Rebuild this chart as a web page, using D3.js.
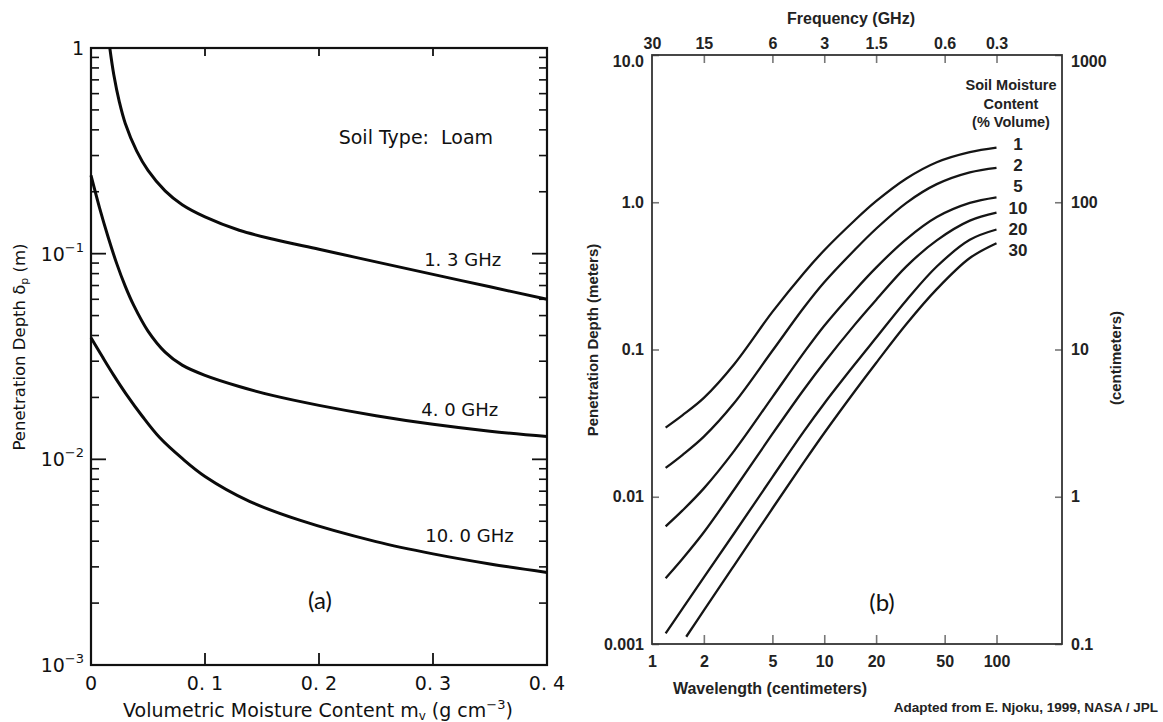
<!DOCTYPE html>
<html>
<head>
<meta charset="utf-8">
<script src="https://cdn.jsdelivr.net/npm/d3@7"></script>
<style>
  body { margin: 0; background: #fff; }
  .pa text { font-family: "DejaVu Sans", sans-serif; fill: #111; white-space: pre; }
  .pb text { font-family: "Liberation Sans Narrow", "Arial Narrow", "Liberation Sans", sans-serif; font-weight: bold; fill: #222; }
  .tag { font-family: Lato, "Open Sans", sans-serif !important; font-weight: normal !important; fill: #111 !important; }
</style>
</head>
<body>
<svg id="chart"></svg>
<script>
// ---- panel (a): penetration depth vs volumetric moisture (loam)
const freqLabels = ['1. 3 GHz', '4. 0 GHz', '10. 0 GHz'];
const mv13 = [0.0165, 0.02, 0.025, 0.03, 0.04, 0.05, 0.065, 0.08, 0.1, 0.13, 0.16, 0.2, 0.25, 0.3, 0.35, 0.4];
const dp13 = [1.0, 0.741, 0.543, 0.431, 0.316, 0.254, 0.202, 0.173, 0.151, 0.130, 0.1175, 0.105, 0.0912, 0.0793, 0.069, 0.06];
const mv40 = [0, 0.0075, 0.015, 0.0225, 0.03, 0.0375, 0.05, 0.065, 0.08, 0.1, 0.13, 0.16, 0.2, 0.25, 0.3, 0.35, 0.4];
const dp40 = [0.24, 0.167, 0.1205, 0.0897, 0.0695, 0.056, 0.042, 0.0332, 0.0287, 0.0256, 0.0226, 0.0204, 0.0183, 0.0163, 0.0148, 0.0137, 0.0129];
const mv100 = [0, 0.01, 0.02, 0.031, 0.045, 0.06, 0.08, 0.1, 0.139, 0.183, 0.25, 0.3, 0.35, 0.4];
const dp100 = [0.039, 0.0315, 0.0256, 0.0207, 0.0162, 0.0128, 0.0101, 0.00826, 0.00625, 0.00506, 0.00398, 0.00347, 0.0031, 0.00282];
const mvTicks = [0, 0.1, 0.2, 0.3, 0.4];
const dpDecades = [1, 0.1, 0.01, 0.001];

// ---- panel (b): penetration depth vs wavelength, by soil moisture
const moistureLabels = ['1', '2', '5', '10', '20', '30'];
const wl = [1.2, 1.5, 2, 3, 5, 7.6, 10, 15, 20, 30, 45, 70, 100];
const wl30 = [1.58, 2, 3, 5, 7.6, 10, 15, 20, 30, 45, 70, 100];
const sm1 = [0.0295, 0.0357, 0.0469, 0.0794, 0.18, 0.330, 0.472, 0.752, 1.016, 1.45, 1.87, 2.19, 2.35];
const sm2 = [0.0157, 0.0192, 0.0256, 0.0433, 0.098, 0.192, 0.286, 0.474, 0.661, 0.991, 1.327, 1.596, 1.714];
const sm5 = [0.0063, 0.00805, 0.0114, 0.0205, 0.0475, 0.0948, 0.145, 0.251, 0.360, 0.562, 0.793, 0.989, 1.08];
const sm10 = [0.0028, 0.00378, 0.00574, 0.0112, 0.0267, 0.0533, 0.0816, 0.147, 0.217, 0.367, 0.551, 0.750, 0.849];
const sm20 = [0.00118, 0.00173, 0.00283, 0.00565, 0.0136, 0.0277, 0.043, 0.079, 0.120, 0.216, 0.366, 0.556, 0.653];
const sm30 = [0.00112, 0.00169, 0.00342, 0.00832, 0.0171, 0.0271, 0.0519, 0.0810, 0.149, 0.257, 0.418, 0.527];
const freqTicks = [30, 15, 6, 3, 1.5, 0.6, 0.3];
const wlTicks = [1, 2, 5, 10, 20, 50, 100];
const depthTicks = [10, 1, 0.1, 0.01, 0.001];
const cmTicks = [1000, 100, 10, 1, 0.1];

const svg = d3.select('#chart').attr('width', 1163).attr('height', 722);
svg.append('rect').attr('width', 1163).attr('height', 722).attr('fill', '#fff');

// ================= panel (a)
const ga = svg.append('g').attr('class', 'pa');
const xA = d3.scaleLinear().domain([0, 0.4]).range([91, 547]);
const yA = d3.scaleLog().domain([0.001, 1]).range([665, 48]);

const minorA = [];
[0.001, 0.01, 0.1].forEach(d => { for (let m = 2; m <= 9; m++) minorA.push(d * m); });

// minor + major ticks on both sides, pointing inwards
function yTicksA(sel, side) {
  const x0 = side === 'left' ? xA.range()[0] : xA.range()[1];
  const s = side === 'left' ? 1 : -1;
  sel.selectAll(null).data(minorA).enter().append('line')
    .attr('x1', x0).attr('x2', x0 + s * 8)
    .attr('y1', d => yA(d)).attr('y2', d => yA(d))
    .attr('stroke', '#111').attr('stroke-width', 1.6);
  sel.selectAll(null).data([0.1, 0.01]).enter().append('line')
    .attr('x1', x0).attr('x2', x0 + s * 15)
    .attr('y1', d => yA(d)).attr('y2', d => yA(d))
    .attr('stroke', '#111').attr('stroke-width', 1.8);
}
yTicksA(ga, 'left');
yTicksA(ga, 'right');

ga.selectAll(null).data(mvTicks.slice(1, 4)).enter().append('line')
  .attr('x1', d => xA(d)).attr('x2', d => xA(d))
  .attr('y1', 48).attr('y2', 56).attr('stroke', '#111').attr('stroke-width', 1.8);
ga.selectAll(null).data(mvTicks.slice(1, 4)).enter().append('line')
  .attr('x1', d => xA(d)).attr('x2', d => xA(d))
  .attr('y1', 665).attr('y2', 653).attr('stroke', '#111').attr('stroke-width', 1.8);

ga.append('rect').attr('x', 91).attr('y', 48).attr('width', 456).attr('height', 617)
  .attr('fill', 'none').attr('stroke', '#111').attr('stroke-width', 2.2);

// tick labels
ga.selectAll(null).data(mvTicks).enter().append('text')
  .attr('x', d => xA(d)).attr('y', 690).attr('text-anchor', 'middle')
  .attr('font-size', 19)
  .text(d => d === 0 ? '0' : d3.format('.1f')(d).replace('.', '. '));

dpDecades.forEach(d => {
  const t = ga.append('text').attr('x', 84).attr('y', yA(d) + 7).attr('text-anchor', 'end').attr('font-size', 19);
  if (d === 1) { t.text('1'); return; }
  t.append('tspan').text('10');
  t.append('tspan').attr('font-size', 13).attr('dy', -9).text('\u2212' + Math.round(-Math.log10(d)));
});

// axis titles
const xt = ga.append('text').attr('x', 318).attr('y', 717).attr('text-anchor', 'middle').attr('font-size', 19);
xt.append('tspan').text('Volumetric Moisture Content m');
xt.append('tspan').attr('font-size', 12).attr('dy', 3).text('v');
xt.append('tspan').attr('dy', -3).text(' (g cm');
xt.append('tspan').attr('font-size', 13).attr('dy', -8).text('\u22123');
xt.append('tspan').attr('dy', 8).text(')');

const yt = ga.append('text').attr('transform', 'translate(25,347) rotate(-90)')
  .attr('text-anchor', 'middle').attr('font-size', 16.5);
yt.append('tspan').text('Penetration Depth \u03b4');
yt.append('tspan').attr('font-size', 11).attr('dy', 3).text('p');
yt.append('tspan').attr('dy', -3).text(' (m)');

// curves
const lineA = d3.line().x(d => xA(d[0])).y(d => yA(d[1])).curve(d3.curveCatmullRom.alpha(0.5));
const seriesA = [d3.zip(mv13, dp13), d3.zip(mv40, dp40), d3.zip(mv100, dp100)];
ga.selectAll('.ca').data(seriesA).enter().append('path')
  .attr('class', 'ca').attr('d', lineA)
  .attr('fill', 'none').attr('stroke', '#0a0a0a').attr('stroke-width', 3);

// curve labels
const labPos = [[0.326, 0.087], [0.3235, 0.01625], [0.332, 0.00397]];
ga.selectAll(null).data(freqLabels).enter().append('text')
  .attr('x', (d, i) => xA(labPos[i][0])).attr('y', (d, i) => yA(labPos[i][1]))
  .attr('text-anchor', 'middle').attr('font-size', 18).text(d => d);

ga.append('text').attr('x', xA(0.285)).attr('y', 144).attr('text-anchor', 'middle')
  .attr('font-size', 19).text('Soil Type:  Loam');
ga.append('text').attr('class', 'tag').attr('x', 320).attr('y', 609)
  .attr('text-anchor', 'middle').attr('font-size', 24).text('(a)');

// ================= panel (b)
const gb = svg.append('g').attr('class', 'pb');
const xB = d3.scaleLog().domain([1, 240]).range([652, 1062]);
const yB = d3.scaleLog().domain([0.001, 10]).range([644, 55]);
const yC = d3.scaleLog().domain([0.1, 1000]).range([644, 55]);

const axL = gb.append('g').attr('transform', 'translate(652,0)')
  .call(d3.axisLeft(yB).tickValues(depthTicks).tickSizeInner(-7).tickSizeOuter(0).tickPadding(8)
    .tickFormat(d => d >= 1 ? d3.format('.1f')(d) : String(d)));
const axR = gb.append('g').attr('transform', 'translate(1062,0)')
  .call(d3.axisRight(yC).tickValues(cmTicks).tickSizeInner(-7).tickSizeOuter(0).tickPadding(9)
    .tickFormat(d => String(d)));
const axBot = gb.append('g').attr('transform', 'translate(0,644)')
  .call(d3.axisBottom(xB).tickValues(wlTicks).tickSizeInner(-9).tickSizeOuter(0).tickPadding(12)
    .tickFormat(d => String(d)));
const axTop = gb.append('g').attr('transform', 'translate(0,55)')
  .call(d3.axisTop(xB).tickValues(freqTicks.map(f => 30 / f)).tickSizeInner(-8).tickSizeOuter(0).tickPadding(6)
    .tickFormat((d, i) => String(freqTicks[i])));

[axL, axR, axBot, axTop].forEach(a => {
  a.select('.domain').remove();
  a.selectAll('.tick line').attr('stroke', '#777').attr('stroke-width', 1.6);
  a.selectAll('.tick text').attr('font-size', 16).attr('fill', '#222');
});
axL.selectAll('.tick').filter(d => d === 10).select('text').attr('dy', '0.7em');
axR.selectAll('.tick').filter(d => d === 1000).select('text').attr('dy', '0.7em');
axBot.selectAll('.tick').filter(d => d === 1).select('line').remove();
axTop.selectAll('.tick').filter((d, i) => i === 0).select('line').remove();

gb.append('rect').attr('x', 652).attr('y', 55).attr('width', 410).attr('height', 589)
  .attr('fill', 'none').attr('stroke', '#333').attr('stroke-width', 1.8);

gb.append('text').attr('x', 851).attr('y', 24).attr('text-anchor', 'middle').attr('font-size', 16).text('Frequency (GHz)');
gb.append('text').attr('x', 770).attr('y', 694).attr('text-anchor', 'middle').attr('font-size', 16).text('Wavelength (centimeters)');
gb.append('text').attr('transform', 'translate(598,340) rotate(-90)').attr('text-anchor', 'middle')
  .attr('font-size', 15).text('Penetration Depth (meters)');
gb.append('text').attr('transform', 'translate(1121,358) rotate(-90)').attr('text-anchor', 'middle')
  .attr('font-size', 15).text('(centimeters)');
gb.append('text').attr('x', 1158).attr('y', 712).attr('text-anchor', 'end').attr('font-size', 13.5)
  .text('Adapted from E. Njoku, 1999, NASA / JPL');
gb.append('text').attr('class', 'tag').attr('x', 882).attr('y', 611)
  .attr('text-anchor', 'middle').attr('font-size', 24).text('(b)');

// legend header
['Soil Moisture', 'Content', '(% Volume)'].forEach((t, i) => {
  gb.append('text').attr('x', 1011).attr('y', 90 + i * 18.5).attr('text-anchor', 'middle')
    .attr('font-size', 14.5).text(t);
});

const lineB = d3.line().x(d => xB(d[0])).y(d => yB(d[1])).curve(d3.curveCatmullRom.alpha(0.5));
const seriesB = [d3.zip(wl, sm1), d3.zip(wl, sm2), d3.zip(wl, sm5), d3.zip(wl, sm10), d3.zip(wl, sm20), d3.zip(wl30, sm30)];
gb.selectAll('.cb').data(seriesB).enter().append('path')
  .attr('class', 'cb').attr('d', lineB)
  .attr('fill', 'none').attr('stroke', '#151515').attr('stroke-width', 2.3);

gb.selectAll('.lab').data(moistureLabels).enter().append('text')
  .attr('class', 'lab').attr('x', 1018).attr('y', (d, i) => 150 + i * 21.2)
  .attr('text-anchor', 'middle').attr('font-size', 17).text(d => d);
</script>
</body>
</html>
